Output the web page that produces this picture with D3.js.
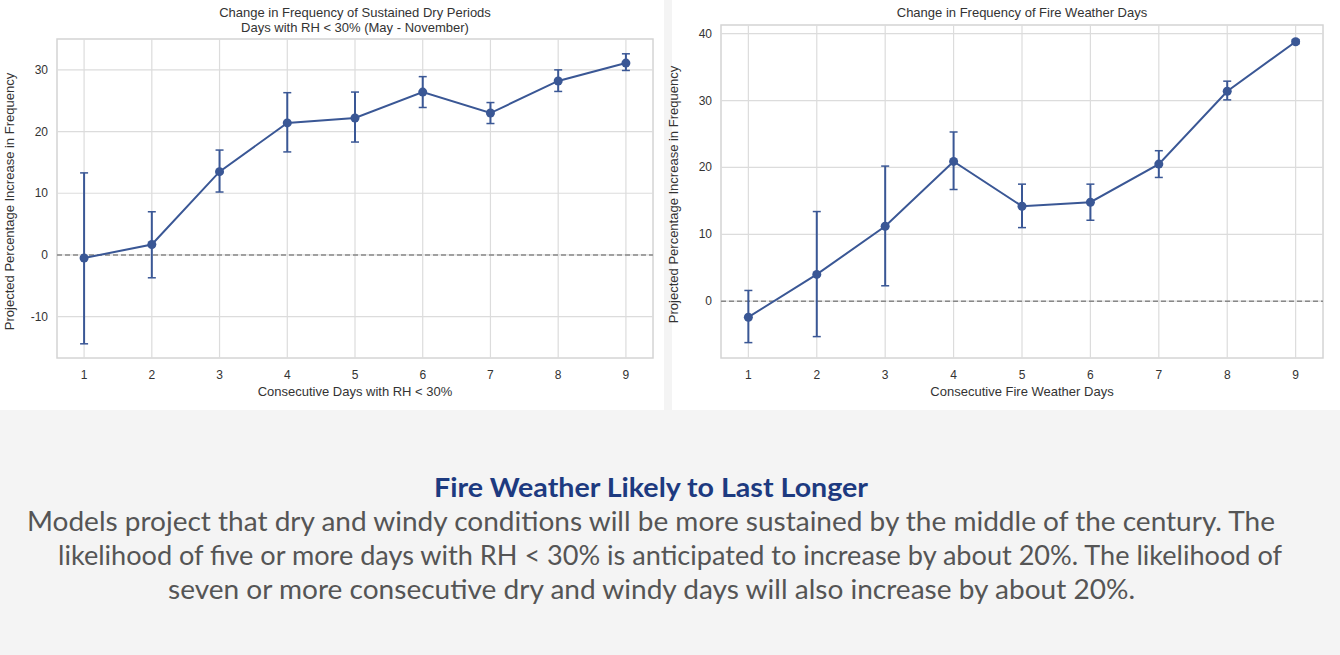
<!DOCTYPE html>
<html><head><meta charset="utf-8">
<script src="https://cdn.jsdelivr.net/npm/d3@7"></script>
<style>
body{margin:0;background:#f4f4f4;font-family:Lato,sans-serif;}
#vis{position:absolute;left:0;top:0;}
</style></head><body>
<div id="vis"></div>
<script>
// chart values
const days = [1, 2, 3, 4, 5, 6, 7, 8, 9];
const dryMean = [-0.5, 1.7, 13.5, 21.4, 22.2, 26.4, 23.0, 28.2, 31.1];
const dryLow = [-14.4, -3.7, 10.2, 16.7, 18.3, 23.9, 21.3, 26.5, 29.9];
const dryHigh = [13.3, 7.0, 17.0, 26.3, 26.4, 28.9, 24.7, 30.0, 32.6];
const fireMean = [-2.4, 4.0, 11.2, 20.9, 14.2, 14.8, 20.5, 31.4, 38.8];
const fireLow = [-6.2, -5.3, 2.3, 16.7, 11.0, 12.1, 18.5, 30.1, 38.5];
const fireHigh = [1.6, 13.4, 20.2, 25.3, 17.5, 17.5, 22.5, 32.9, 39.1];
const dryTicks = [-10, 0, 10, 20, 30];
const fireTicks = [0, 10, 20, 30, 40];

const svg = d3.select("#vis").append("svg").attr("width", 1340).attr("height", 655);
svg.append("rect").attr("width", 1340).attr("height", 410).attr("fill", "#fff");
svg.append("rect").attr("x", 664).attr("width", 8).attr("height", 410).attr("fill", "#f4f4f4");

const af = "Liberation Sans, Arial";
function panel(o) {
  const g = svg.append("g");
  const x = d3.scaleLinear().domain([0.6, 9.4]).range([o.left, o.right]);
  const y = d3.scaleLinear().domain(o.yDom).range([358, o.top]);
  g.append("rect").attr("x", o.left).attr("y", o.top).attr("width", o.right - o.left)
    .attr("height", 358 - o.top).attr("fill", "#fff").attr("stroke", "#d4d4d4").attr("stroke-width", 1.5);
  g.selectAll(".gx").data(days).join("line").attr("x1", d => x(d)).attr("x2", d => x(d))
    .attr("y1", o.top).attr("y2", 358).attr("stroke", "#dcdcdc").attr("stroke-width", 1.2);
  g.selectAll(".gy").data(o.ticks).join("line").attr("y1", d => y(d)).attr("y2", d => y(d))
    .attr("x1", o.left).attr("x2", o.right).attr("stroke", "#dcdcdc").attr("stroke-width", 1.2);
  g.append("line").attr("x1", o.left).attr("x2", o.right).attr("y1", y(0)).attr("y2", y(0))
    .attr("stroke", "#888").attr("stroke-width", 1.5).attr("stroke-dasharray", "5,3");
  g.selectAll(".xl").data(days).join("text").attr("x", d => x(d)).attr("y", 379)
    .attr("text-anchor", "middle").attr("font-size", 12).attr("fill", "#333")
    .attr("font-family", af).text(d => d);
  g.selectAll(".yl").data(o.ticks).join("text").attr("x", o.left - 9).attr("y", d => y(d) + 4)
    .attr("text-anchor", "end").attr("font-size", 12).attr("fill", "#333")
    .attr("font-family", af).text(d => d);
  g.append("text").attr("x", (o.left + o.right) / 2).attr("y", 396).attr("text-anchor", "middle")
    .attr("font-size", 13).attr("fill", "#333").attr("font-family", af).text(o.xTitle);
  g.append("text").attr("transform", `translate(${o.left - 43},${(o.top + 358) / 2 + 3}) rotate(-90)`)
    .attr("text-anchor", "middle").attr("font-size", 13).attr("fill", "#333")
    .attr("font-family", af).text("Projected Percentage Increase in Frequency");
  o.title.forEach((t, i) => g.append("text").attr("x", (o.left + o.right) / 2).attr("y", 17 + i * 15)
    .attr("text-anchor", "middle").attr("font-size", 13).attr("fill", "#333")
    .attr("font-family", af).text(t));
  const c = "#3a5795";
  days.forEach((d, i) => {
    g.append("line").attr("x1", x(d)).attr("x2", x(d)).attr("y1", y(o.low[i])).attr("y2", y(o.high[i]))
      .attr("stroke", c).attr("stroke-width", 2);
    [o.low[i], o.high[i]].forEach(v => g.append("line").attr("x1", x(d) - 4).attr("x2", x(d) + 4)
      .attr("y1", y(v)).attr("y2", y(v)).attr("stroke", c).attr("stroke-width", 1.5));
  });
  g.append("path").datum(days).attr("fill", "none").attr("stroke", c).attr("stroke-width", 2)
    .attr("d", d3.line().x(d => x(d)).y((d, i) => y(o.mean[i])));
  g.selectAll(".pt").data(days).join("circle").attr("cx", d => x(d)).attr("cy", (d, i) => y(o.mean[i]))
    .attr("r", 4.5).attr("fill", c);
}

panel({left: 57, right: 653, top: 39, yDom: [-16.7, 35], ticks: dryTicks, mean: dryMean, low: dryLow, high: dryHigh,
  xTitle: "Consecutive Days with RH < 30%",
  title: ["Change in Frequency of Sustained Dry Periods", "Days with RH < 30% (May - November)"]});
panel({left: 721, right: 1323, top: 25, yDom: [-8.5, 41.3], ticks: fireTicks, mean: fireMean, low: fireLow, high: fireHigh,
  xTitle: "Consecutive Fire Weather Days",
  title: ["Change in Frequency of Fire Weather Days"]});

svg.append("text").attr("x", 651).attr("y", 497).attr("text-anchor", "middle").attr("font-size", 26)
  .attr("font-weight", "bold").attr("fill", "#1d3a80")
  .attr("textLength", 434).attr("lengthAdjust", "spacingAndGlyphs").text("Fire Weather Likely to Last Longer");
const body = [
  "Models project that dry and windy conditions will be more sustained by the middle of the century. The",
  "likelihood of five or more days with RH < 30% is anticipated to increase by about 20%. The likelihood of",
  "seven or more consecutive dry and windy days will also increase by about 20%."
];
const bodyX = [[27, 1275], [58, 1282], [168, 1135]];
body.forEach((t, i) => svg.append("text").attr("x", bodyX[i][0]).attr("y", 531 + i * 34)
  .attr("font-size", 26).attr("fill", "#555")
  .attr("textLength", bodyX[i][1] - bodyX[i][0]).attr("lengthAdjust", "spacingAndGlyphs").text(t));
</script>
</body></html>
